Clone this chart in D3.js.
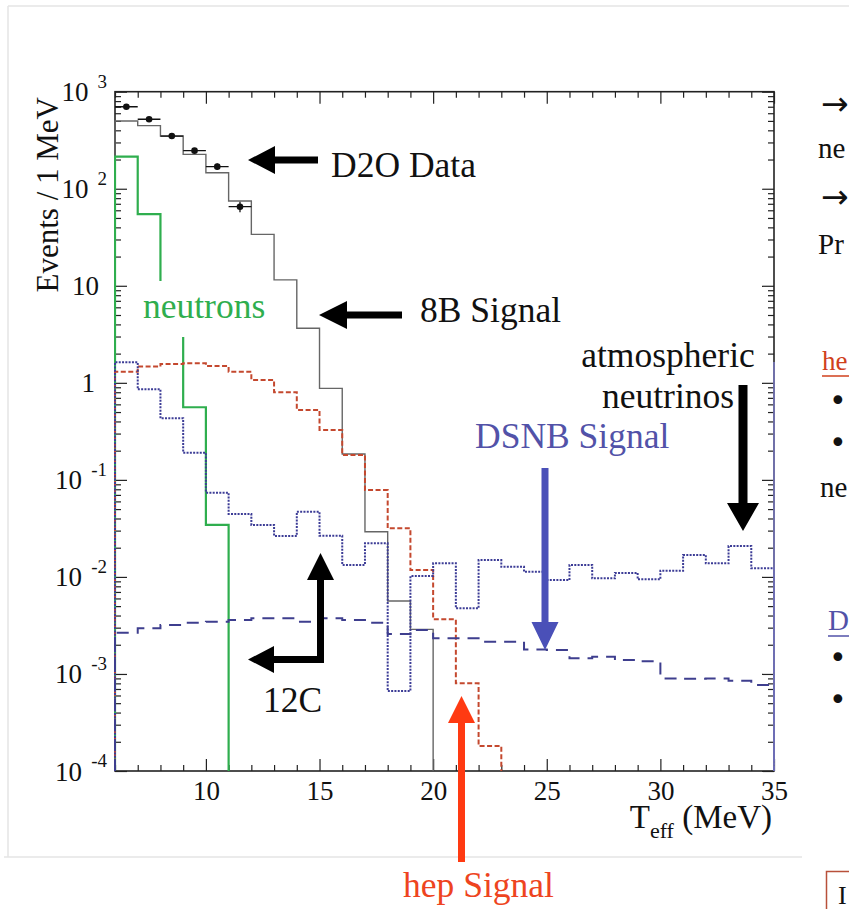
<!DOCTYPE html>
<html>
<head>
<meta charset="utf-8">
<script src="https://cdn.jsdelivr.net/npm/d3@7"></script>
<style>
  body { margin: 0; background: #fff; }
  svg { display: block; }
  text { font-family: "Liberation Serif", "Times New Roman", serif; }
</style>
</head>
<body>
<svg id="chart" width="849" height="909"></svg>
<script>
// ---- data: 1 MeV bins from 6 to 35 MeV (lower edges) ----
const binLow = [6, 7, 8, 9, 10, 11, 12, 13, 14, 15, 16, 17, 18, 19, 20,
                21, 22, 23, 24, 25, 26, 27, 28, 29, 30, 31, 32, 33, 34];
const binWidth = 1;

// 8B solar signal (events / MeV)
const boron8 = [499, 447, 349, 226, 146, 74.8, 33.9, 11.5, 3.65, 0.877, 0.185, 0.0292,
                0.00564, 0.00288, 0, 0, 0, 0, 0, 0, 0, 0, 0, 0, 0, 0, 0, 0, 0];
// neutron background
const neutrons = [214, 54.7, 5.5, 0.56, 0.0343, 0, 0, 0, 0, 0, 0, 0, 0, 0, 0,
                  0, 0, 0, 0, 0, 0, 0, 0, 0, 0, 0, 0, 0, 0];
// hep solar signal
const hep = [1.30, 1.47, 1.56, 1.59, 1.49, 1.30, 1.07, 0.80, 0.525, 0.327, 0.180, 0.0786,
             0.0317, 0.0118, 0.00366, 0.0008, 0.000181, 0, 0, 0, 0, 0, 0, 0, 0, 0, 0, 0, 0];
// atmospheric neutrinos
const atmospheric = [1.63, 0.857, 0.431, 0.190, 0.0738, 0.0445, 0.0343, 0.0264, 0.0470, 0.0266,
                     0.0133, 0.0222, 0.000667, 0.0102, 0.0138, 0.00475, 0.0149, 0.0127, 0.0113,
                     0.0093, 0.0133, 0.00966, 0.0110, 0.00944, 0.0116, 0.0168, 0.0138, 0.0208, 0.0123];
// diffuse supernova neutrino background
const dsnb = [0.00266, 0.00295, 0.00319, 0.00337, 0.00345, 0.0036, 0.00374, 0.00374, 0.00345,
              0.00374, 0.0036, 0.00337, 0.00258, 0.00284, 0.00233, 0.00233, 0.00215, 0.00215,
              0.00179, 0.00177, 0.00145, 0.0015, 0.00139, 0.00135, 0.0009, 0.00089, 0.0009,
              0.00085, 0.00077];

// D2O data points
const dataE = [6.5, 7.5, 8.5, 9.5, 10.5, 11.5];
const dataN = [700, 520, 349, 247, 169, 65.3];
const dataErr = [26, 23, 19, 16, 13, 8];

// axis ticks
const xMajorTicks = [10, 15, 20, 25, 30, 35];
const xTickLabels = ["10", "15", "20", "25", "30", "35"];
const yDecades = [1e-4, 1e-3, 1e-2, 1e-1, 1, 10, 100, 1000];
const yTickBase = ["10", "10", "10", "10", "1", "10", "10", "10"];
const yTickSup = ["-4", "-3", "-2", "-1", "", "", "2", "3"];

// ---- layout ----
const frame = { left: 115, right: 774, top: 91.7, bottom: 771 };
const svg = d3.select("#chart");

const x = d3.scaleLinear().domain([6, 35]).range([frame.left, frame.right]);
const y = d3.scaleLog().domain([1e-4, 1e3]).range([frame.bottom, frame.top]);

// outer panel border
const border = svg.append("g").attr("stroke", "#e4e4e4").attr("stroke-width", 1.5).attr("fill", "none");
border.append("line").attr("x1", 8).attr("x2", 849).attr("y1", 6).attr("y2", 6);
border.append("line").attr("x1", 8).attr("x2", 8).attr("y1", 6).attr("y2", 857);
border.append("line").attr("x1", 4).attr("x2", 802).attr("y1", 857).attr("y2", 857);

svg.append("defs").append("clipPath").attr("id", "plotClip")
  .append("rect")
  .attr("x", frame.left - 1).attr("y", frame.top)
  .attr("width", frame.right - frame.left + 2).attr("height", frame.bottom - frame.top + 1);

// frame
svg.append("rect")
  .attr("x", frame.left).attr("y", frame.top)
  .attr("width", frame.right - frame.left).attr("height", frame.bottom - frame.top)
  .attr("fill", "none").attr("stroke", "#222").attr("stroke-width", 1.6);

// ---- axes ----
const xMinor = binLow.filter(v => !xMajorTicks.includes(v));
function styleAxis(g) {
  g.select(".domain").remove();
  g.selectAll(".tick line").attr("stroke", "#222").attr("stroke-width", 1.2);
}
svg.append("g").attr("transform", `translate(0,${frame.bottom})`)
  .call(d3.axisBottom(x).tickValues(xMajorTicks).tickSize(-12).tickPadding(10)
        .tickFormat((d, i) => xTickLabels[i]))
  .call(styleAxis)
  .call(g => g.selectAll("text").attr("font-size", 27).attr("fill", "#111")
        .attr("font-family", "Liberation Serif"));
svg.append("g").attr("transform", `translate(0,${frame.bottom})`)
  .call(d3.axisBottom(x).tickValues(xMinor).tickSize(-6).tickFormat(""))
  .call(styleAxis);
svg.append("g").attr("transform", `translate(0,${frame.top})`)
  .call(d3.axisTop(x).tickValues(xMajorTicks).tickSize(-12).tickFormat(""))
  .call(styleAxis);
svg.append("g").attr("transform", `translate(0,${frame.top})`)
  .call(d3.axisTop(x).tickValues(xMinor).tickSize(-6).tickFormat(""))
  .call(styleAxis);

const yMinor = [];
yDecades.slice(0, -1).forEach(d => { for (let k = 2; k <= 9; k++) yMinor.push(d * k); });
svg.append("g").attr("transform", `translate(${frame.left},0)`)
  .call(d3.axisLeft(y).tickValues(yDecades).tickSize(-12).tickFormat(""))
  .call(styleAxis);
svg.append("g").attr("transform", `translate(${frame.left},0)`)
  .call(d3.axisLeft(y).tickValues(yMinor).tickSize(-6).tickFormat(""))
  .call(styleAxis);
svg.append("g").attr("transform", `translate(${frame.right},0)`)
  .call(d3.axisRight(y).tickValues(yDecades).tickSize(-12).tickFormat(""))
  .call(styleAxis);
svg.append("g").attr("transform", `translate(${frame.right},0)`)
  .call(d3.axisRight(y).tickValues(yMinor).tickSize(-6).tickFormat(""))
  .call(styleAxis);

// y tick labels: 10 with raised exponent, plain 1 and 10
const yLab = svg.append("g").attr("fill", "#111");
yDecades.forEach((d, i) => {
  const yy = y(d);
  if (yTickSup[i] === "") {
    const right = yTickBase[i] === "1" ? 95 : 99;
    yLab.append("text").attr("x", right).attr("y", yy + 9.5)
      .attr("text-anchor", "end").attr("font-size", 27).text(yTickBase[i]);
  } else {
    yLab.append("text").attr("x", 107).attr("y", yy - 4)
      .attr("text-anchor", "end").attr("font-size", 19).text(yTickSup[i]);
    const supW = yTickSup[i].length > 1 ? 16 : 9.5;
    yLab.append("text").attr("x", 107 - supW - 9).attr("y", yy + 9.5)
      .attr("text-anchor", "end").attr("font-size", 27).text(yTickBase[i]);
  }
});

// axis titles
svg.append("text")
  .attr("transform", "translate(58,97) rotate(-90)")
  .attr("text-anchor", "end").attr("font-size", 31).attr("fill", "#111")
  .text("Events / 1 MeV");
const xt = svg.append("text").attr("x", 772).attr("y", 828)
  .attr("text-anchor", "end").attr("font-size", 33).attr("fill", "#111");
xt.append("tspan").text("T");
xt.append("tspan").attr("font-size", 22).attr("dy", 10).text("eff");
xt.append("tspan").attr("dy", -10).text("\u00a0(MeV)");

// ---- histograms (ROOT-style outlines) ----
const plot = svg.append("g").attr("clip-path", "url(#plotClip)");
const yv = v => (v > 0 ? Math.min(y(v), frame.bottom) : frame.bottom);
function outline(vals) {
  let last = vals.length - 1;
  while (last > 0 && !(vals[last] > 0)) last--;
  const pts = [[x(binLow[0]), frame.bottom]];
  for (let i = 0; i <= last; i++) {
    pts.push([x(binLow[i]), yv(vals[i])]);
    pts.push([x(binLow[i] + binWidth), yv(vals[i])]);
  }
  pts.push([x(binLow[last] + binWidth), frame.bottom]);
  return d3.line()(pts);
}

// faint tint along the right edge from the overlaid pad
svg.append("line").attr("x1", frame.right).attr("x2", frame.right)
  .attr("y1", 362).attr("y2", frame.bottom)
  .attr("stroke", "#7a7ac0").attr("stroke-width", 1.6);

plot.append("path").attr("d", outline(boron8))
  .attr("fill", "none").attr("stroke", "#666").attr("stroke-width", 1.4);
plot.append("path").attr("d", outline(neutrons))
  .attr("fill", "none").attr("stroke", "#2fae4e").attr("stroke-width", 2.2);
plot.append("path").attr("d", outline(hep))
  .attr("fill", "none").attr("stroke", "#c4482e").attr("stroke-width", 2)
  .attr("stroke-dasharray", "5,2.5");
plot.append("path").attr("d", outline(atmospheric))
  .attr("fill", "none").attr("stroke", "#3c3c96").attr("stroke-width", 2)
  .attr("stroke-dasharray", "2,1.3");
plot.append("path").attr("d", outline(dsnb))
  .attr("fill", "none").attr("stroke", "#3e3e8e").attr("stroke-width", 2)
  .attr("stroke-dasharray", "12,8");

// D2O data with error bars
const pts = plot.append("g").attr("stroke", "#111").attr("stroke-width", 1.3);
dataE.forEach((e, i) => {
  pts.append("line").attr("x1", x(e - binWidth / 2)).attr("x2", x(e + binWidth / 2))
    .attr("y1", y(dataN[i])).attr("y2", y(dataN[i]));
  pts.append("line").attr("x1", x(e)).attr("x2", x(e))
    .attr("y1", y(dataN[i] - dataErr[i])).attr("y2", y(dataN[i] + dataErr[i]));
  pts.append("circle").attr("cx", x(e)).attr("cy", y(dataN[i])).attr("r", 3.3)
    .attr("fill", "#111").attr("stroke", "none");
});

// ---- annotations ----
function blockArrow(tail, tip, shaftW, headL, headW, color) {
  const dx = tip[0] - tail[0], dy = tip[1] - tail[1];
  const len = Math.hypot(dx, dy), ux = dx / len, uy = dy / len;
  const px = -uy, py = ux;
  const bx = tip[0] - ux * headL, by = tip[1] - uy * headL;
  const p = [
    [tail[0] + px * shaftW / 2, tail[1] + py * shaftW / 2],
    [bx + px * shaftW / 2, by + py * shaftW / 2],
    [bx + px * headW / 2, by + py * headW / 2],
    tip,
    [bx - px * headW / 2, by - py * headW / 2],
    [bx - px * shaftW / 2, by - py * shaftW / 2],
    [tail[0] - px * shaftW / 2, tail[1] - py * shaftW / 2]
  ];
  svg.append("polygon").attr("points", p.map(q => q.join(",")).join(" ")).attr("fill", color);
}

// neutrons label sits on a white box
svg.append("rect").attr("x", 140).attr("y", 281).attr("width", 128).attr("height", 56).attr("fill", "#fff");
svg.append("text").attr("x", 143).attr("y", 318).attr("font-size", 35.5)
  .attr("fill", "#2fae4e").text("neutrons");

blockArrow([318, 160], [248, 160], 7, 27, 28, "#000");
svg.append("text").attr("x", 331).attr("y", 177).attr("font-size", 35.5).attr("fill", "#111").text("D2O Data");

blockArrow([402, 315], [319, 315], 7, 28, 28, "#000");
svg.append("text").attr("x", 420).attr("y", 322).attr("font-size", 35.5).attr("fill", "#111").text("8B Signal");

svg.append("text").attr("x", 668).attr("y", 367).attr("text-anchor", "middle")
  .attr("font-size", 35.5).attr("fill", "#111").text("atmospheric");
svg.append("text").attr("x", 668).attr("y", 408).attr("text-anchor", "middle")
  .attr("font-size", 35.5).attr("fill", "#111").text("neutrinos");
blockArrow([743, 385], [743, 531], 9, 28, 32, "#000");

svg.append("text").attr("x", 475).attr("y", 448).attr("font-size", 35.5)
  .attr("fill", "#5252a8").text("DSNB Signal");
blockArrow([545, 468], [545, 650], 7, 28, 27, "#4a50b8");

// 12C: elbow arrow
svg.append("path").attr("d", "M320.5,578 L320.5,659.5 L272,659.5")
  .attr("fill", "none").attr("stroke", "#000").attr("stroke-width", 7).attr("stroke-linejoin", "miter");
blockArrow([320.5, 600], [320.5, 553], 7, 27, 27, "#000");
blockArrow([300, 659.5], [248, 659.5], 7, 26, 27, "#000");
svg.append("text").attr("x", 263).attr("y", 712).attr("font-size", 35.5).attr("fill", "#111").text("12C");

blockArrow([461.5, 862], [461.5, 696], 7, 27, 27, "#ff3a12");
svg.append("text").attr("x", 403).attr("y", 897).attr("font-size", 35.5)
  .attr("fill", "#ee4420").text("hep Signal");

// ---- neighbouring text column at the page edge ----
const side = svg.append("g").attr("font-size", 29).attr("fill", "#111");
side.append("text").attr("x", 821).attr("y", 115).attr("font-size", 33)
  .style("font-family", "DejaVu Sans").text("\u2192");
side.append("text").attr("x", 818).attr("y", 158).text("ne");
side.append("text").attr("x", 821).attr("y", 208).attr("font-size", 33)
  .style("font-family", "DejaVu Sans").text("\u2192");
side.append("text").attr("x", 818).attr("y", 254).text("Pr");
side.append("text").attr("x", 822).attr("y", 370).attr("font-size", 27)
  .attr("fill", "#d0401c").text("he");
side.append("line").attr("x1", 822).attr("x2", 849).attr("y1", 376).attr("y2", 376)
  .attr("stroke", "#d0401c").attr("stroke-width", 1.5);
[411, 453, 668, 710].forEach(b => {
  side.append("text").attr("x", 829).attr("y", b).attr("font-size", 30)
    .style("font-family", "DejaVu Sans").text("\u2022");
});
side.append("text").attr("x", 820).attr("y", 497).text("ne");
side.append("text").attr("x", 828).attr("y", 630).attr("fill", "#5252a8").text("D");
side.append("line").attr("x1", 828).attr("x2", 849).attr("y1", 636).attr("y2", 636)
  .attr("stroke", "#5252a8").attr("stroke-width", 1.5);
svg.append("rect").attr("x", 826.5).attr("y", 871.5).attr("width", 60).attr("height", 60)
  .attr("fill", "none").attr("stroke", "#b8503a").attr("stroke-width", 1.5);
svg.append("text").attr("x", 838).attr("y", 904).attr("font-size", 26).attr("fill", "#111").text("I");
</script>
</body>
</html>
